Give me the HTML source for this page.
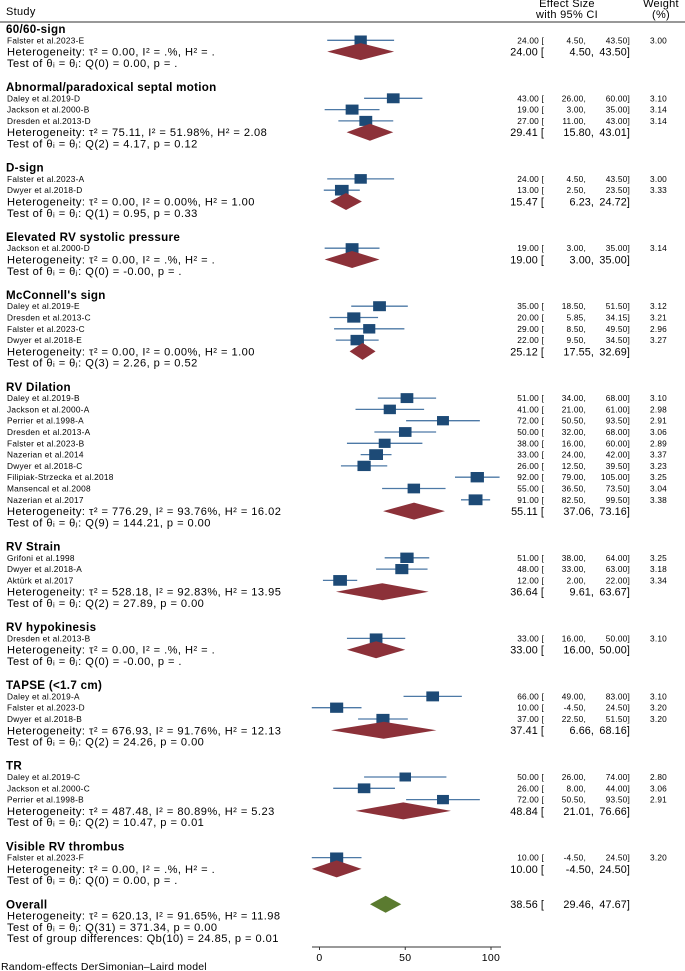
<!DOCTYPE html>
<html><head><meta charset="utf-8"><style>
body{margin:0;background:#fff}
svg{display:block;font-family:"Liberation Sans",sans-serif}
</style></head><body>
<svg id="chart" width="685" height="971" viewBox="0 0 685 971">
<g id="hdr">
<text x="6" y="15" font-size="11" letter-spacing="0.3">Study</text>
<text x="567" y="7" font-size="11" letter-spacing="0.3" text-anchor="middle">Effect Size</text>
<text x="567" y="18" font-size="11" letter-spacing="0.3" text-anchor="middle">with 95% CI</text>
<text x="661" y="7" font-size="11" letter-spacing="0.3" text-anchor="middle">Weight</text>
<text x="661" y="18" font-size="11" letter-spacing="0.3" text-anchor="middle">(%)</text>
<line x1="0" y1="22" x2="685" y2="22" stroke="#777" stroke-width="1.5"/>
</g>
<g id="body"></g>
<text x="1" y="970" font-size="10.5" letter-spacing="0.2">Random-effects DerSimonian–Laird model</text>
</svg>
<script>
const groupNames=["60/60-sign","Abnormal/paradoxical septal motion","D-sign","Elevated RV systolic pressure","McConnell's sign","RV Dilation","RV Strain","RV hypokinesis","TAPSE (<1.7 cm)","TR","Visible RV thrombus"];
const groupSizes=[1,3,2,1,4,10,3,1,3,3,1];
const studyLabels=["Falster et al.2023-E","Daley et al.2019-D","Jackson et al.2000-B","Dresden et al.2013-D","Falster et al.2023-A","Dwyer et al.2018-D","Jackson et al.2000-D","Daley et al.2019-E","Dresden et al.2013-C","Falster et al.2023-C","Dwyer et al.2018-E","Daley et al.2019-B","Jackson et al.2000-A","Perrier et al.1998-A","Dresden et al.2013-A","Falster et al.2023-B","Nazerian et al.2014","Dwyer et al.2018-C","Filipiak-Strzecka et al.2018","Mansencal et al.2008","Nazerian et al.2017","Grifoni et al.1998","Dwyer et al.2018-A","Aktürk et al.2017","Dresden et al.2013-B","Daley et al.2019-A","Falster et al.2023-D","Dwyer et al.2018-B","Daley et al.2019-C","Jackson et al.2000-C","Perrier et al.1998-B","Falster et al.2023-F"];
const studyES=[24,43,19,27,24,13,19,35,20,29,22,51,41,72,50,38,33,26,92,55,91,51,48,12,33,66,10,37,50,26,72,10];
const studyLo=[4.5,26,3,11,4.5,2.5,3,18.5,5.85,8.5,9.5,34,21,50.5,32,16,24,12.5,79,36.5,82.5,38,33,2,16,49,-4.5,22.5,26,8,50.5,-4.5];
const studyHi=[43.5,60,35,43,43.5,23.5,35,51.5,34.15,49.5,34.5,68,61,93.5,68,60,42,39.5,105,73.5,99.5,64,63,22,50,83,24.5,51.5,74,44,93.5,24.5];
const studyWt=[3.00,3.10,3.14,3.14,3.00,3.33,3.14,3.12,3.21,2.96,3.27,3.10,2.98,2.91,3.06,2.89,3.37,3.23,3.25,3.04,3.38,3.25,3.18,3.34,3.10,3.10,3.20,3.20,2.80,3.06,2.91,3.20];
const pooledES=[24.00,29.41,15.47,19.00,25.12,55.11,36.64,33.00,37.41,48.84,10.00];
const pooledLo=[4.50,15.80,6.23,3.00,17.55,37.06,9.61,16.00,6.66,21.01,-4.50];
const pooledHi=[43.50,43.01,24.72,35.00,32.69,73.16,63.67,50.00,68.16,76.66,24.50];
const hetText=["τ² = 0.00, I² = .%, H² = .","τ² = 75.11, I² = 51.98%, H² = 2.08","τ² = 0.00, I² = 0.00%, H² = 1.00","τ² = 0.00, I² = .%, H² = .","τ² = 0.00, I² = 0.00%, H² = 1.00","τ² = 776.29, I² = 93.76%, H² = 16.02","τ² = 528.18, I² = 92.83%, H² = 13.95","τ² = 0.00, I² = .%, H² = .","τ² = 676.93, I² = 91.76%, H² = 12.13","τ² = 487.48, I² = 80.89%, H² = 5.23","τ² = 0.00, I² = .%, H² = ."];
const testText=["Q(0) = 0.00, p = .","Q(2) = 4.17, p = 0.12","Q(1) = 0.95, p = 0.33","Q(0) = -0.00, p = .","Q(3) = 2.26, p = 0.52","Q(9) = 144.21, p = 0.00","Q(2) = 27.89, p = 0.00","Q(0) = -0.00, p = .","Q(2) = 24.26, p = 0.00","Q(2) = 10.47, p = 0.01","Q(0) = 0.00, p = ."];
const overallES=38.56, overallLo=29.46, overallHi=47.67;
const overallHet="τ² = 620.13, I² = 91.65%, H² = 11.98";
const overallTest="Q(31) = 371.34, p = 0.00";
const groupDiff="Qb(10) = 24.85, p = 0.01";
const xTicks=[0,50,100];

const NS="http://www.w3.org/2000/svg";
const body=document.getElementById('body');
const X=v=>319.5+v*1.715;
function mk(tag,attrs,txt){const e=document.createElementNS(NS,tag);for(const k in attrs)e.setAttribute(k,attrs[k]);if(txt!==undefined)e.textContent=txt;body.appendChild(e);return e;}
function fmt(v){return v.toFixed(2);}
const R=11.3,G=24.1;
const BIG=11.1,SM=8.3;
let y=29,si=0;
function numCols(es,lo,hi,yy,big){
  const fs=big?10.8:SM, ls=big?0.1:0.2;
  let t=mk('text',{x:544,y:yy+fs*0.36,'font-size':fs,'letter-spacing':ls,'text-anchor':'end'},fmt(es)+' [');
  
  
  t=mk('text',{x:big?594:586,y:yy+fs*0.36,'font-size':fs,'letter-spacing':ls,'text-anchor':'end'},fmt(lo)+',');
  
  
  t=mk('text',{x:630,y:yy+fs*0.36,'font-size':fs,'letter-spacing':ls,'text-anchor':'end'},fmt(hi)+']');
  
  
}
function diamond(es,lo,hi,yy,col,name){
  const p=mk('polygon',{points:`${X(lo)},${yy} ${X(es)},${yy-8.5} ${X(hi)},${yy} ${X(es)},${yy+8.5}`,fill:col});
  
  
}
for(let g=0;g<groupNames.length;g++){
  let t=mk('text',{x:6,y:y+4,'font-size':11.6,'letter-spacing':0.3,'font-weight':'bold'},groupNames[g]);
  
  
  let yy=y;
  for(let k=0;k<groupSizes[g];k++,si++){
    yy+=R;
    t=mk('text',{x:7,y:yy+3,'font-size':SM,'letter-spacing':0.25},studyLabels[si]);
    
    
    const l=mk('line',{x1:X(studyLo[si]),x2:X(studyHi[si]),y1:yy,y2:yy,stroke:'#4d79a6','stroke-width':1.3});
    
    
    const w=studyWt[si]*4.1,h=studyWt[si]*3.2;
    const b=mk('rect',{x:X(studyES[si])-w/2,y:yy-h/2,width:w,height:h,fill:'#1d4a76'});
    
    
    numCols(studyES[si],studyLo[si],studyHi[si],yy,false);
    t=mk('text',{x:667,y:yy+3,'font-size':SM,'letter-spacing':0.2,'text-anchor':'end'},fmt(studyWt[si]));
    
    
  }
  yy+=R;
  t=mk('text',{x:7,y:yy+4,'font-size':BIG,'letter-spacing':0.45},'Heterogeneity: '+hetText[g]);
  
  
  diamond(pooledES[g],pooledLo[g],pooledHi[g],yy,'#8c3139','pooled-diamond');
  numCols(pooledES[g],pooledLo[g],pooledHi[g],yy,true);
  yy+=R;
  t=mk('text',{x:7,y:yy+4,'font-size':BIG,'letter-spacing':0.45},'Test of θᵢ = θⱼ: '+testText[g]);
  
  
  y=yy+G;
}
let t=mk('text',{x:6,y:y+4,'font-size':11.6,'letter-spacing':0.3,'font-weight':'bold'},'Overall');


diamond(overallES,overallLo,overallHi,y,'#5b7b30','overall-diamond');
numCols(overallES,overallLo,overallHi,y,true);
t=mk('text',{x:7,y:y+R+4,'font-size':BIG,'letter-spacing':0.45},'Heterogeneity: '+overallHet);


t=mk('text',{x:7,y:y+2*R+4,'font-size':BIG,'letter-spacing':0.45},'Test of θᵢ = θⱼ: '+overallTest);


t=mk('text',{x:7,y:y+3*R+4,'font-size':BIG,'letter-spacing':0.45},'Test of group differences: '+groupDiff);


const ay=947;
const ax=mk('line',{x1:312,x2:501,y1:ay,y2:ay,stroke:'#333','stroke-width':1});


xTicks.forEach(v=>{
  const tk=mk('line',{x1:X(v),x2:X(v),y1:ay,y2:ay+3,stroke:'#333'});
  
  
  const tl=mk('text',{x:X(v),y:ay+14,'font-size':10.5,'letter-spacing':0.3,'text-anchor':'middle'},String(v));
  
  
});
</script>
</body></html>
